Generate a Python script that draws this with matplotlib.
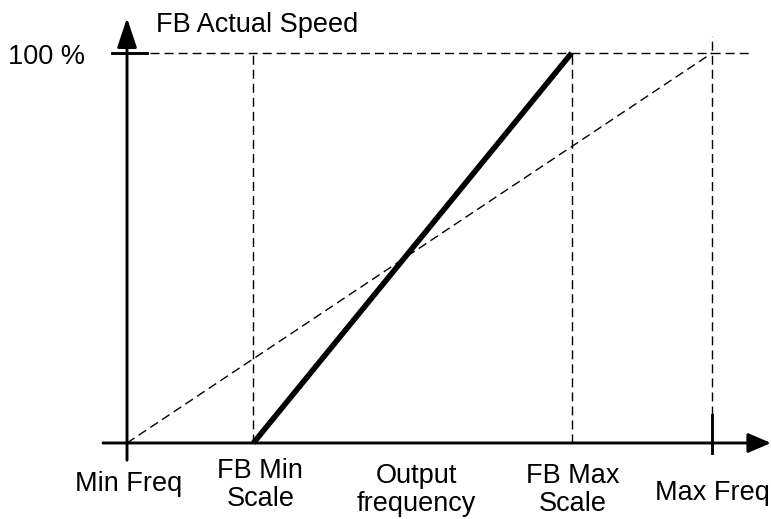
import matplotlib.pyplot as plt

plt.rcParams["font.family"] = ["Liberation Sans", "DejaVu Sans"]

# frequency points on the x axis (Hz) and the speed scale (%)
min_freq = 0.0
fb_min_scale = 10.8
fb_max_scale = 38.0
max_freq = 50.0
speed_full = 100.0

# FB actual speed curve: 0 % at FB Min Scale, 100 % at FB Max Scale
fb_x = [fb_min_scale, fb_max_scale]
fb_y = [0.0, speed_full]

# reference slope: 0 % at Min Freq, 100 % at Max Freq
ref_x = [min_freq, max_freq]
ref_y = [0.0, speed_full]

x_labels = ["Min Freq", "FB Min\nScale", "Output\nfrequency", "FB Max\nScale", "Max Freq"]
x_label_pos = [0.13, 11.4, 24.7, 38.1, 50.0]
x_label_base = [-12.4, -9.0, -10.3, -10.3, -14.5]   # baseline of first line (%)
line_step = 7.2                                     # baseline to baseline (%)

FS = 19.5

fig = plt.figure(figsize=(7.71, 5.19), dpi=100)
ax = fig.add_axes([0, 0, 1, 1])
ax.set_xlim(-10.855, 55.04)
ax.set_ylim(-19.49, 113.6)
ax.axis("off")

dash = dict(color="black", lw=1.0, linestyle=(0, (6.5, 3.6)))

# guide lines
ax.plot([2.0, 53.5], [speed_full, speed_full], **dash)
ax.plot([fb_min_scale, fb_min_scale], [0, speed_full], **dash)
ax.plot([fb_max_scale, fb_max_scale], [0, speed_full], **dash)
ax.plot([max_freq, max_freq], [7.2, 104.4], **dash)
ax.plot(ref_x, ref_y, **dash)

# actual speed
ax.plot(fb_x, fb_y, color="black", lw=4.0, solid_capstyle="butt")

# axes with arrows
axis_kw = dict(arrowstyle="-|>,head_length=0.9,head_width=0.3",
               color="black", lw=2.1, shrinkA=0, shrinkB=0, mutation_scale=20)
ax.annotate("", xy=(min_freq, 109.0), xytext=(min_freq, -4.4), arrowprops=axis_kw)
axis_kw_x = dict(axis_kw, arrowstyle="-|>,head_length=0.7,head_width=0.3")
ax.annotate("", xy=(55.04, 0), xytext=(-2.05, 0), arrowprops=axis_kw_x)

# ticks
ax.plot([-1.28, 1.7], [speed_full, speed_full], color="black", lw=2.1)
ax.plot([max_freq, max_freq], [-2.5, 7.2], color="black", lw=2.1)

ax.text(2.5, 105.4, "FB Actual Speed", fontsize=FS, ha="left", va="baseline")
ax.text(-3.6, 97.2, "100 %", fontsize=FS, ha="right", va="baseline")

for pos, base, lab in zip(x_label_pos, x_label_base, x_labels):
    for i, line in enumerate(lab.split("\n")):
        ax.text(pos, base - i * line_step, line, fontsize=FS,
                ha="center", va="baseline")

fig.savefig("out.png", dpi=100)
